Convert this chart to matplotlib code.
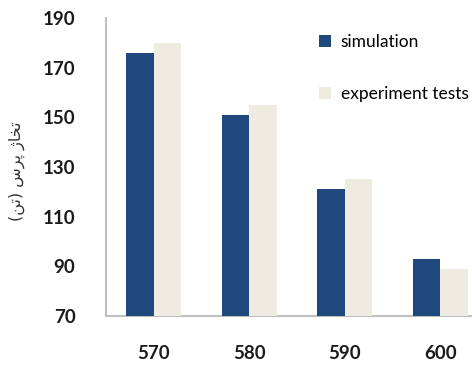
import numpy as np
import matplotlib.pyplot as plt

# press temperature categories and tonnage values
categories = ['570', '580', '590', '600']
simulation = [176, 151, 121, 93]
experiment = [180, 155, 125, 89]
series_names = ['simulation', 'experiment tests']

# y label "تناژ پرس (تن)" written in shaped presentation forms, visual order
ylabel_text = '(\uFEE6\uFE97) \uFEB1\uFEAE\uFB58 \uFB8A\uFE8E\uFEA8\uFE97'

plt.rcParams['font.family'] = ['Lato', 'DejaVu Sans']

fig = plt.figure(figsize=(4.72, 3.67), dpi=100)
ax = fig.add_axes([106 / 472, 51 / 367, 382 / 472, 298 / 367])

x = np.arange(len(categories))
w = 0.29
ax.bar(x - w / 2, simulation, width=w, color='#1F497D', label=series_names[0], zorder=3)
ax.bar(x + w / 2, experiment, width=w, color='#EEECE1', label=series_names[1], zorder=3)

ax.set_xlim(-0.5, len(categories) - 0.5)
ax.set_ylim(70, 190)
ax.set_yticks(np.arange(70, 191, 20))
ax.set_xticks(x)
ax.set_xticklabels(categories)

for side in ['top', 'right']:
    ax.spines[side].set_visible(False)
for side in ['left', 'bottom']:
    ax.spines[side].set_color('#BFBFBF')
    ax.spines[side].set_linewidth(1.5)

ax.tick_params(axis='y', length=0, pad=22, labelsize=13.5, colors='#1a1a1a')
ax.tick_params(axis='x', length=0, pad=21, labelsize=13.5, colors='#1a1a1a')
for lbl in ax.get_xticklabels() + ax.get_yticklabels():
    lbl.set_fontweight('bold')

fig.text(17 / 472, 1 - 171 / 367, ylabel_text, rotation=90, ha='center', va='center',
         fontsize=11.5, family='DejaVu Sans', color='#333333')

ax.legend(loc='upper left', bbox_to_anchor=(312 / 472, 1 - 27 / 367),
          bbox_transform=fig.transFigure, frameon=False, fontsize=12.5,
          handlelength=0.7, handleheight=0.7, handletextpad=0.55,
          labelspacing=2.1, borderaxespad=0)

fig.savefig('out.png', dpi=100)
